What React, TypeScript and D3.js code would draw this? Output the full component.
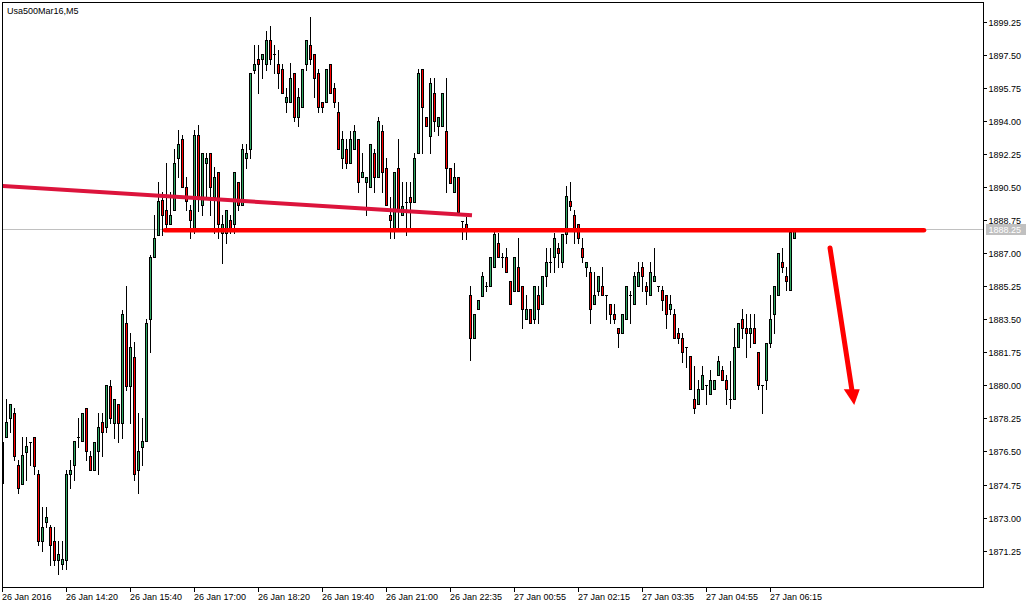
import React from "react";
import * as d3 from "d3";

const W = 1036;
const H = 608;

const chartTitle = "Usa500Mar16,M5";

const opens = [
  1877.00, 1877.27, 1878.28, 1878.54, 1875.80, 1874.79, 1876.47, 1877.00, 1877.27, 1875.32,
  1871.77, 1872.77, 1872.51, 1871.77, 1870.76, 1870.55, 1870.76, 1875.32, 1875.80, 1877.27,
  1877.06, 1878.81, 1876.26, 1875.53, 1876.53, 1878.06, 1877.80, 1879.97, 1878.01, 1879.02,
  1878.01, 1883.30, 1879.97, 1881.50, 1875.53, 1876.74, 1877.06, 1883.51, 1886.79, 1887.96,
  1889.81, 1889.28, 1888.54, 1889.28, 1892.04, 1893.03, 1890.50, 1889.28, 1888.22, 1893.25,
  1889.55, 1891.77, 1892.29, 1889.97, 1891.29, 1888.06, 1888.06, 1888.75, 1888.54, 1890.76,
  1889.55, 1892.04, 1892.50, 1896.69, 1897.27, 1897.27, 1897.01, 1898.27, 1897.54, 1897.01,
  1896.74, 1894.99, 1894.99, 1896.53, 1894.20, 1894.73, 1897.01, 1898.01, 1897.54, 1896.53,
  1894.99, 1894.99, 1897.01, 1895.74, 1894.46, 1892.04, 1892.50, 1891.77, 1892.50, 1893.03,
  1891.03, 1890.76, 1890.50, 1892.29, 1891.03, 1893.46, 1891.51, 1889.02, 1888.22, 1891.51,
  1889.02, 1889.70, 1889.97, 1889.70, 1892.29, 1896.74, 1894.20, 1893.19, 1895.47, 1893.72,
  1893.72, 1893.46, 1891.51, 1890.23, 1891.03, 1888.70, 1888.54, 1884.79, 1882.51, 1884.04,
  1884.73, 1885.26, 1885.26, 1886.26, 1887.53, 1886.79, 1886.79, 1885.53, 1884.99, 1886.26,
  1885.26, 1883.51, 1884.04, 1883.51, 1884.79, 1884.31, 1885.79, 1886.52, 1886.79, 1887.27,
  1886.52, 1888.01, 1889.76, 1889.02, 1888.54, 1887.27, 1886.26, 1886.00, 1884.31, 1884.99,
  1885.26, 1884.79, 1884.31, 1883.78, 1883.04, 1882.77, 1883.51, 1884.79, 1884.31, 1885.26,
  1886.26, 1885.26, 1884.79, 1885.53, 1885.26, 1885.05, 1884.79, 1884.04, 1883.78, 1882.77,
  1882.51, 1882.03, 1881.55, 1879.28, 1879.02, 1879.81, 1880.03, 1879.55, 1879.81, 1880.55,
  1880.82, 1880.29, 1879.28, 1879.28, 1882.03, 1883.51, 1883.04, 1882.77, 1883.04, 1881.76,
  1880.03, 1880.29, 1882.24, 1883.78, 1884.79, 1886.52, 1885.79, 1885.05, 1887.80,
];

const highs = [
  1877.11, 1879.28, 1879.02, 1878.81, 1876.06, 1877.27, 1877.27, 1877.00, 1877.27, 1875.53,
  1873.57, 1873.57, 1872.60, 1872.51, 1871.77, 1871.77, 1875.53, 1876.06, 1877.06, 1878.28,
  1878.54, 1878.81, 1876.53, 1877.00, 1878.54, 1878.54, 1880.03, 1880.29, 1879.28, 1879.02,
  1883.99, 1885.26, 1882.77, 1882.29, 1878.54, 1878.28, 1883.51, 1886.90, 1889.02, 1890.76,
  1890.23, 1891.77, 1890.23, 1892.50, 1893.51, 1893.25, 1891.03, 1889.55, 1893.51, 1893.77,
  1892.29, 1892.29, 1892.29, 1891.56, 1891.29, 1889.02, 1889.28, 1889.02, 1891.29, 1890.76,
  1892.77, 1892.77, 1896.53, 1898.01, 1898.01, 1897.54, 1898.75, 1899.01, 1898.01, 1897.75,
  1897.01, 1895.74, 1897.06, 1896.53, 1895.74, 1896.74, 1898.27, 1899.49, 1897.54, 1896.74,
  1894.99, 1896.74, 1897.01, 1896.00, 1894.99, 1893.46, 1893.03, 1893.46, 1893.77, 1893.03,
  1892.29, 1891.03, 1892.77, 1892.50, 1894.20, 1893.77, 1892.04, 1889.97, 1891.29, 1893.03,
  1890.76, 1890.76, 1890.76, 1892.29, 1896.74, 1896.74, 1894.20, 1896.27, 1896.27, 1894.20,
  1895.47, 1896.27, 1891.51, 1891.77, 1891.03, 1888.70, 1888.91, 1885.26, 1883.78, 1884.52,
  1886.00, 1885.47, 1886.79, 1888.11, 1888.06, 1887.00, 1887.27, 1885.53, 1886.79, 1887.80,
  1885.26, 1884.79, 1884.04, 1885.26, 1885.26, 1885.79, 1887.27, 1887.27, 1888.06, 1887.53,
  1888.01, 1890.55, 1890.76, 1889.28, 1888.54, 1887.80, 1886.52, 1886.26, 1886.00, 1885.79,
  1886.26, 1884.79, 1884.31, 1884.31, 1883.04, 1883.78, 1885.26, 1884.99, 1886.00, 1886.52,
  1886.52, 1885.47, 1886.52, 1887.27, 1885.26, 1885.26, 1884.79, 1884.79, 1884.04, 1883.04,
  1882.77, 1882.03, 1881.55, 1881.02, 1880.29, 1881.02, 1880.03, 1880.82, 1880.29, 1881.55,
  1881.02, 1880.55, 1881.29, 1883.04, 1883.30, 1884.04, 1883.78, 1883.78, 1883.78, 1881.76,
  1880.03, 1882.24, 1884.79, 1885.26, 1887.00, 1887.27, 1886.26, 1888.11, 1888.33,
];

const lows = [
  1874.74, 1877.27, 1877.53, 1876.06, 1874.31, 1874.79, 1875.00, 1875.80, 1875.32, 1871.56,
  1871.24, 1872.51, 1870.50, 1870.50, 1870.02, 1870.28, 1870.28, 1874.58, 1875.00, 1876.74,
  1877.06, 1876.06, 1875.53, 1875.53, 1875.32, 1876.26, 1877.53, 1878.01, 1877.22, 1877.00,
  1877.22, 1879.76, 1878.01, 1875.00, 1874.31, 1875.80, 1877.06, 1881.76, 1886.79, 1887.96,
  1887.96, 1888.22, 1888.54, 1889.28, 1891.03, 1890.50, 1889.28, 1887.80, 1888.06, 1889.23,
  1889.02, 1889.97, 1889.02, 1888.06, 1887.80, 1886.47, 1887.53, 1888.06, 1888.06, 1889.28,
  1889.55, 1891.51, 1892.04, 1896.53, 1895.47, 1896.27, 1896.69, 1897.01, 1896.53, 1895.74,
  1895.47, 1894.46, 1894.99, 1893.99, 1893.72, 1894.73, 1896.69, 1897.01, 1895.26, 1894.46,
  1894.46, 1894.99, 1895.47, 1894.73, 1892.50, 1891.51, 1891.51, 1891.77, 1892.50, 1890.23,
  1891.03, 1889.02, 1890.50, 1890.23, 1891.03, 1890.23, 1889.55, 1887.80, 1887.80, 1888.22,
  1889.02, 1887.96, 1888.22, 1889.70, 1892.29, 1892.29, 1893.72, 1892.29, 1893.46, 1893.25,
  1893.72, 1890.23, 1890.71, 1890.23, 1889.02, 1887.74, 1887.74, 1881.34, 1882.51, 1884.04,
  1884.73, 1884.99, 1885.26, 1886.26, 1886.79, 1886.26, 1886.00, 1884.31, 1884.99, 1884.99,
  1883.04, 1883.51, 1883.30, 1883.30, 1883.30, 1884.31, 1885.26, 1886.00, 1886.00, 1886.26,
  1886.26, 1887.53, 1889.28, 1887.53, 1887.53, 1886.52, 1885.79, 1883.30, 1884.31, 1884.79,
  1884.79, 1883.51, 1883.30, 1883.30, 1882.03, 1882.77, 1883.51, 1883.30, 1884.31, 1885.26,
  1884.99, 1884.31, 1884.79, 1885.53, 1884.99, 1883.99, 1883.04, 1883.78, 1882.51, 1882.24,
  1881.23, 1880.98, 1879.81, 1878.54, 1879.02, 1879.81, 1879.02, 1879.55, 1879.81, 1880.55,
  1880.29, 1879.02, 1878.81, 1879.28, 1882.03, 1882.51, 1881.50, 1882.03, 1882.24, 1879.81,
  1878.54, 1879.81, 1882.03, 1882.77, 1884.79, 1886.00, 1885.05, 1885.05, 1887.80,
];

const closes = [
  1874.84, 1878.06, 1879.02, 1876.26, 1874.58, 1876.32, 1876.79, 1877.00, 1875.74, 1871.77,
  1872.51, 1873.04, 1871.56, 1870.76, 1871.08, 1870.81, 1875.32, 1875.53, 1877.06, 1877.27,
  1878.54, 1876.53, 1875.53, 1877.00, 1877.80, 1877.53, 1880.03, 1878.28, 1879.28, 1878.01,
  1883.78, 1879.97, 1882.03, 1875.32, 1876.53, 1877.06, 1883.30, 1886.79, 1887.80, 1889.76,
  1889.02, 1888.54, 1889.02, 1891.77, 1892.77, 1890.50, 1889.76, 1888.75, 1893.25, 1889.97,
  1892.29, 1892.04, 1890.50, 1891.03, 1888.54, 1888.54, 1889.28, 1888.22, 1891.29, 1889.55,
  1892.50, 1892.29, 1896.53, 1897.01, 1897.01, 1897.54, 1898.27, 1897.27, 1897.54, 1896.53,
  1895.47, 1895.26, 1896.27, 1894.20, 1895.26, 1896.74, 1898.27, 1897.27, 1896.27, 1894.73,
  1894.73, 1896.74, 1895.47, 1894.99, 1892.50, 1893.03, 1891.77, 1893.03, 1893.46, 1890.76,
  1891.29, 1891.03, 1892.77, 1891.03, 1893.99, 1891.29, 1889.55, 1888.75, 1891.29, 1889.28,
  1889.49, 1889.70, 1889.70, 1892.04, 1896.53, 1894.73, 1893.72, 1896.00, 1893.99, 1894.20,
  1895.47, 1891.51, 1890.71, 1891.03, 1889.17, 1888.70, 1888.33, 1882.51, 1883.78, 1884.52,
  1885.79, 1885.26, 1886.79, 1888.01, 1886.79, 1886.79, 1886.00, 1884.31, 1886.79, 1884.99,
  1884.04, 1884.04, 1883.30, 1885.26, 1884.04, 1885.79, 1886.52, 1886.52, 1887.80, 1887.00,
  1888.01, 1890.02, 1889.49, 1888.27, 1887.80, 1886.79, 1886.52, 1884.04, 1884.79, 1885.79,
  1884.79, 1884.79, 1883.78, 1883.51, 1882.77, 1883.78, 1885.26, 1884.79, 1885.79, 1886.00,
  1885.79, 1884.99, 1886.00, 1885.79, 1885.26, 1884.52, 1883.78, 1884.31, 1882.51, 1882.51,
  1881.76, 1882.03, 1879.81, 1878.81, 1879.81, 1880.55, 1880.03, 1880.29, 1880.29, 1881.29,
  1880.29, 1879.81, 1879.28, 1882.03, 1883.30, 1883.04, 1882.77, 1883.04, 1882.24, 1880.03,
  1880.03, 1882.24, 1883.51, 1885.26, 1887.00, 1886.26, 1885.53, 1888.11, 1888.25,
];

const timeLabels = [
  "26 Jan 2016", "26 Jan 14:20", "26 Jan 15:40", "26 Jan 17:00", "26 Jan 18:20",
  "26 Jan 19:40", "26 Jan 21:00", "26 Jan 22:35", "27 Jan 00:55", "27 Jan 02:15",
  "27 Jan 03:35", "27 Jan 04:55", "27 Jan 06:15",
];
const timeLabelBars = [0, 16, 32, 48, 64, 80, 96, 112, 128, 144, 160, 176, 192];

const priceTicks = [
  1899.25, 1897.5, 1895.75, 1894.0, 1892.25, 1890.5, 1888.75, 1887.0,
  1885.25, 1883.5, 1881.75, 1880.0, 1878.25, 1876.5, 1874.75, 1873.0, 1871.25,
];

const lastPrice = 1888.25;

// drawn objects (bar index, price)
const resistanceLine = [
  { bar: 40.75, price: 1888.2 },
  { bar: 230.5, price: 1888.2 },
];
const trendLine = [
  { bar: 0, price: 1890.55 },
  { bar: 117.5, price: 1889.0 },
];
const arrowLine = [
  { bar: 207, price: 1887.27 },
  { bar: 213.05, price: 1878.96 },
];

const FONT = "'Liberation Sans', Arial, sans-serif";
const BULL = "#2fa862";
const BEAR = "#ff0000";

export default function App() {
  const left = 2, top = 2, right = 983, bottom = 587;
  const x = d3.scaleLinear().domain([0, 198]).range([2, 794]);
  const y = d3.scaleLinear().domain([1871.25, 1899.25]).range([550.7, 21.5]);

  const candles = opens.map((o, i) => {
    const c = closes[i];
    const h = highs[i];
    const l = lows[i];
    const cx = Math.round(x(i));
    const yH = Math.round(y(h));
    const yL = Math.round(y(l));
    const yTop = Math.round(y(Math.max(o, c)));
    const yBot = Math.round(y(Math.min(o, c)));
    const fill = c > o ? BULL : c < o ? BEAR : "#000";
    return (
      <g key={i}>
        <line x1={cx + 0.5} x2={cx + 0.5} y1={yH} y2={yL + 1} stroke="#000" strokeWidth={1} />
        {yBot - yTop >= 1 ? (
          <rect x={cx - 0.5} y={yTop + 0.5} width={2} height={yBot - yTop} fill={fill} stroke="#000" strokeWidth={1} />
        ) : (
          <line x1={cx - 1} x2={cx + 2} y1={yTop + 0.5} y2={yTop + 0.5} stroke="#000" strokeWidth={1} />
        )}
      </g>
    );
  });

  const lineGen = d3
    .line<{ bar: number; price: number }>()
    .x((d) => x(d.bar))
    .y((d) => y(d.price));

  // arrow geometry
  const ax0 = x(arrowLine[0].bar), ay0 = y(arrowLine[0].price);
  const ax1 = x(arrowLine[1].bar), ay1 = y(arrowLine[1].price);
  const len = Math.hypot(ax1 - ax0, ay1 - ay0);
  const ux = (ax1 - ax0) / len, uy = (ay1 - ay0) / len;
  const headLen = 16, headHalf = 8;
  const bx = ax1 - ux * headLen, by = ay1 - uy * headLen;
  const headPts = `${ax1},${ay1} ${bx - headHalf},${by} ${bx + headHalf},${by}`;

  const lastY = Math.round(y(lastPrice)) + 0.5;

  return (
    <div style={{ position: "absolute", left: 0, top: 0, width: W, height: H, background: "#fff" }}>
      <svg width={W} height={H} style={{ display: "block" }} fontFamily={FONT}>
        <rect x={0} y={0} width={W} height={H} fill="#fff" />
        <defs>
          <clipPath id="plot">
            <rect x={left + 1} y={top + 1} width={right - left - 1} height={bottom - top - 1} />
          </clipPath>
        </defs>

        <line x1={left} x2={right} y1={lastY} y2={lastY} stroke="#c0c0c0" strokeWidth={1} />

        <g clipPath="url(#plot)" shapeRendering="crispEdges">{candles}</g>

        <g clipPath="url(#plot)">
          <path d={lineGen(trendLine) || ""} stroke="#dc143c" strokeWidth={4} fill="none" />
          <path d={lineGen(resistanceLine) || ""} stroke="#ff0000" strokeWidth={4.5} fill="none" strokeLinecap="round" />
          <line x1={ax0} y1={ay0} x2={bx} y2={by} stroke="#ff0000" strokeWidth={5} strokeLinecap="round" />
          <polygon points={headPts} fill="#ff0000" />
        </g>

        <rect x={left + 0.5} y={top + 0.5} width={right - left} height={bottom - top} fill="none" stroke="#000" strokeWidth={1} shapeRendering="crispEdges" />

        <text x={7} y={13.5} fontSize={9} fill="#000">{chartTitle}</text>

        {priceTicks.map((p) => {
          const yy = Math.round(y(p)) + 0.5;
          return (
            <g key={p}>
              <line x1={right} x2={right + 4} y1={yy} y2={yy} stroke="#000" shapeRendering="crispEdges" />
              <text x={988.5} y={yy + 3.3} fontSize={9} fill="#000">{p.toFixed(2)}</text>
            </g>
          );
        })}

        <rect x={986} y={lastY - 5.5} width={40} height={11} fill="#c0c0c0" />
        <text x={988.5} y={lastY + 3.3} fontSize={9} fill="#fff">{lastPrice.toFixed(2)}</text>

        {timeLabels.map((t, k) => {
          const xx = Math.round(x(timeLabelBars[k])) + 0.5;
          return (
            <g key={t}>
              <line x1={xx} x2={xx} y1={bottom} y2={bottom + 5} stroke="#000" shapeRendering="crispEdges" />
              <text x={xx - 0.5} y={599.5} fontSize={9} fill="#000">{t}</text>
            </g>
          );
        })}
      </svg>
    </div>
  );
}
